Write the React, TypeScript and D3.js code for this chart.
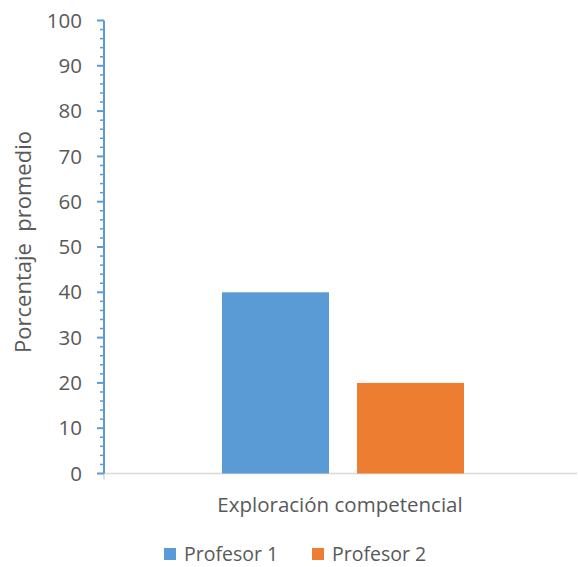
import React from "react";
import * as d3 from "d3";

const categories = ["Exploración competencial"];
const seriesNames = ["Profesor 1", "Profesor 2"];
const profesor1 = [40];
const profesor2 = [20];
const yTicks = [0, 10, 20, 30, 40, 50, 60, 70, 80, 90, 100];
const colors = ["#5B9BD5", "#ED7D31"];

export default function App() {
  const W = 578, H = 567;
  const left = 104, right = 582, top = 20.5, bottom = 473.5;
  const y = d3.scaleLinear().domain([0, 100]).range([bottom, top]);
  const x0 = d3.scaleBand().domain(categories).range([left, right]).paddingInner(0).paddingOuter(0);
  const values = [profesor1, profesor2];
  const barW = 107, gap = 28;
  const minor = d3.range(0, 101, 2).filter((v) => v % 10 !== 0);
  const font = "'Open Sans', sans-serif";
  const textColor = "#595959";
  return (
    <svg width={W} height={H} style={{ position: "absolute", left: 0, top: 0, background: "#fff" }} fontFamily={font}>
      {/* x axis */}
      <line x1={left} x2={577} y1={bottom} y2={bottom} stroke="#d9d9d9" strokeWidth={1.5} />
      <line x1={left} x2={left} y1={bottom} y2={bottom + 6} stroke="#d9d9d9" strokeWidth={1.5} />
      {/* bars */}
      {categories.map((c, ci) => {
        const cx = (x0(c) as number) + x0.bandwidth() / 2;
        const total = barW * 2 + gap;
        return values.map((s, si) => (
          <rect key={c + si} x={cx - total / 2 + si * (barW + gap)} y={y(s[ci])} width={barW} height={bottom - y(s[ci])} fill={colors[si]} />
        ));
      })}
      {/* y axis */}
      <line x1={left} x2={left} y1={top} y2={bottom} stroke="#5B9BD5" strokeWidth={2} />
      {yTicks.map((t) => (
        <g key={t}>
          <line x1={left - 7} x2={left} y1={y(t)} y2={y(t)} stroke="#5B9BD5" strokeWidth={2} />
          <text x={82} y={y(t)} dy="0.35em" textAnchor="end" fontSize={20.5} fill={textColor}>{t}</text>
        </g>
      ))}
      {minor.map((t) => (
        <line key={"m" + t} x1={left - 4} x2={left} y1={y(t)} y2={y(t)} stroke="#5B9BD5" strokeWidth={1.5} />
      ))}
      {categories.map((c) => (
        <text key={c} x={(x0(c) as number) + x0.bandwidth() / 2 - 3} y={512} textAnchor="middle" fontSize={20.5} fill={textColor}>{c}</text>
      ))}
      <text transform={`translate(31,${242}) rotate(-90)`} textAnchor="middle" fontSize={22} fill={textColor} style={{ whiteSpace: "pre" }}>
        {"Porcentaje  promedio"}
      </text>
      {/* legend */}
      {seriesNames.map((n, i) => (
        <g key={n} transform={`translate(${164 + i * 148},548)`}>
          <rect x={0} y={0} width={12} height={12} fill={colors[i]} />
          <text x={20} y={12.5} fontSize={19.5} fill={textColor}>{n}</text>
        </g>
      ))}
    </svg>
  );
}
